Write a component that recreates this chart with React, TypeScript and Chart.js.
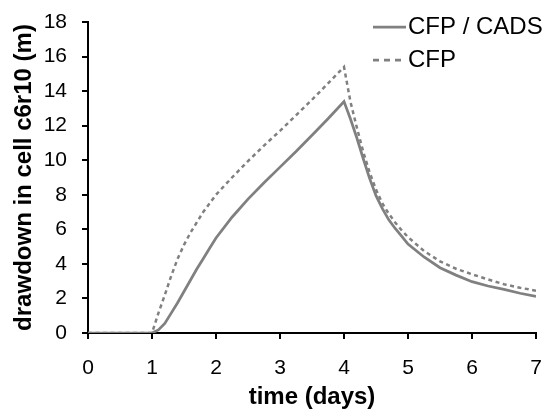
import React, { useEffect, useRef } from "react";
import { Chart, registerables } from "chart.js";

Chart.register(...registerables);

// time (days)
const times = [0, 1, 1.1, 1.2, 1.3, 1.4, 1.5, 1.6, 1.7, 1.8, 1.9, 2, 2.25, 2.5, 2.75, 3, 3.25, 3.5, 3.75, 4, 4.05, 4.1, 4.2, 4.3, 4.4, 4.5, 4.6, 4.7, 4.8, 4.9, 5, 5.25, 5.5, 5.75, 6, 6.25, 6.5, 6.75, 7];
// drawdown in cell c6r10 (m)
const cfpCads = [0, 0, 0.18, 0.55, 1.15, 1.75, 2.4, 3.05, 3.7, 4.3, 4.9, 5.5, 6.7, 7.75, 8.7, 9.6, 10.5, 11.45, 12.4, 13.4, 12.9, 12.4, 11.3, 10.1, 8.95, 7.95, 7.2, 6.55, 6.05, 5.6, 5.15, 4.4, 3.78, 3.35, 2.97, 2.72, 2.52, 2.3, 2.12];
const cfp = [0, 0, 1.15, 2.2, 3.3, 4.3, 5.1, 5.8, 6.4, 7.0, 7.5, 8.0, 9.0, 9.95, 10.85, 11.7, 12.6, 13.5, 14.45, 15.4, 14.4, 13.4, 11.9, 10.5, 9.3, 8.3, 7.5, 6.9, 6.4, 5.95, 5.55, 4.75, 4.15, 3.72, 3.4, 3.1, 2.82, 2.62, 2.45];

const seriesNames = ["CFP / CADS", "CFP"];
const xTicks = [0, 1, 2, 3, 4, 5, 6, 7];
const yTicks = [0, 2, 4, 6, 8, 10, 12, 14, 16, 18];

const FONT = "'Liberation Sans', Arial, sans-serif";
const GRAY = "#808080";

const legendPlugin = {
  id: "insideLegend",
  afterDatasetsDraw(chart: any) {
    const ctx = chart.ctx;
    const rows = [
      { label: seriesNames[0], dash: [] as number[], y: 27 },
      { label: seriesNames[1], dash: [6, 5], y: 60 },
    ];
    ctx.save();
    rows.forEach((r) => {
      ctx.strokeStyle = GRAY;
      ctx.lineWidth = 2.75;
      ctx.setLineDash(r.dash);
      ctx.beginPath();
      ctx.moveTo(373, r.y);
      ctx.lineTo(406, r.y);
      ctx.stroke();
      ctx.setLineDash([]);
      ctx.fillStyle = "#000";
      ctx.font = `24px ${FONT}`;
      ctx.textAlign = "left";
      ctx.textBaseline = "middle";
      ctx.fillText(r.label, 408, r.y);
    });
    ctx.restore();
  },
};

export default function App() {
  const ref = useRef<HTMLCanvasElement>(null);
  useEffect(() => {
    document.body.style.margin = "0";
    const canvas = ref.current!;
    const chart = new Chart(canvas, {
      type: "scatter",
      data: {
        datasets: [
          {
            label: seriesNames[1],
            data: times.map((t, i) => ({ x: t, y: cfp[i] })),
            showLine: true,
            borderColor: GRAY,
            borderWidth: 2.5,
            borderDash: [4, 3.5],
            pointRadius: 0,
            tension: 0,
          },
          {
            label: seriesNames[0],
            data: times.map((t, i) => ({ x: t, y: cfpCads[i] })),
            showLine: true,
            borderColor: GRAY,
            borderWidth: 2.75,
            pointRadius: 0,
            tension: 0,
          },
        ],
      },
      plugins: [legendPlugin],
      options: {
        responsive: false,
        animation: false,
        layout: { padding: { top: 22, right: 13, left: 0, bottom: 0 } },
        plugins: { legend: { display: false }, tooltip: { enabled: false } },
        scales: {
          x: {
            type: "linear",
            min: 0,
            max: 7,
            afterBuildTicks: (s: any) => {
              s.ticks = xTicks.map((v) => ({ value: v }));
            },
            afterFit: (s: any) => {
              s.height = 77;
              s.paddingLeft = 0;
              s.paddingRight = 0;
            },
            ticks: { font: { family: FONT, size: 21 }, color: "#000", padding: 17 },
            grid: { display: true, drawOnChartArea: false, drawTicks: true, tickLength: 6, color: "#000", lineWidth: 2 },
            border: { display: true, color: "#000", width: 2 },
            title: {
              display: true,
              text: "time (days)",
              color: "#000",
              font: { family: FONT, size: 24, weight: "bold", lineHeight: 1.05 },
              padding: { top: 0, bottom: 0 },
            },
          },
          y: {
            type: "linear",
            min: 0,
            max: 18,
            afterBuildTicks: (s: any) => {
              s.ticks = yTicks.map((v) => ({ value: v }));
            },
            afterFit: (s: any) => {
              s.width = 88;
              s.paddingTop = 0;
              s.paddingBottom = 0;
            },
            ticks: { font: { family: FONT, size: 21 }, color: "#000", padding: 15 },
            grid: { display: true, drawOnChartArea: false, drawTicks: true, tickLength: 6, color: "#000", lineWidth: 2 },
            border: { display: true, color: "#000", width: 2 },
            title: {
              display: true,
              text: "drawdown in cell c6r10 (m)",
              color: "#000",
              font: { family: FONT, size: 24, weight: "bold" },
              padding: { top: 10, bottom: 0 },
            },
          },
        },
      },
    } as any);
    return () => chart.destroy();
  }, []);
  return (
    <div style={{ width: 549, height: 410 }}>
      <canvas ref={ref} width={549} height={410} style={{ display: "block" }} />
    </div>
  );
}
